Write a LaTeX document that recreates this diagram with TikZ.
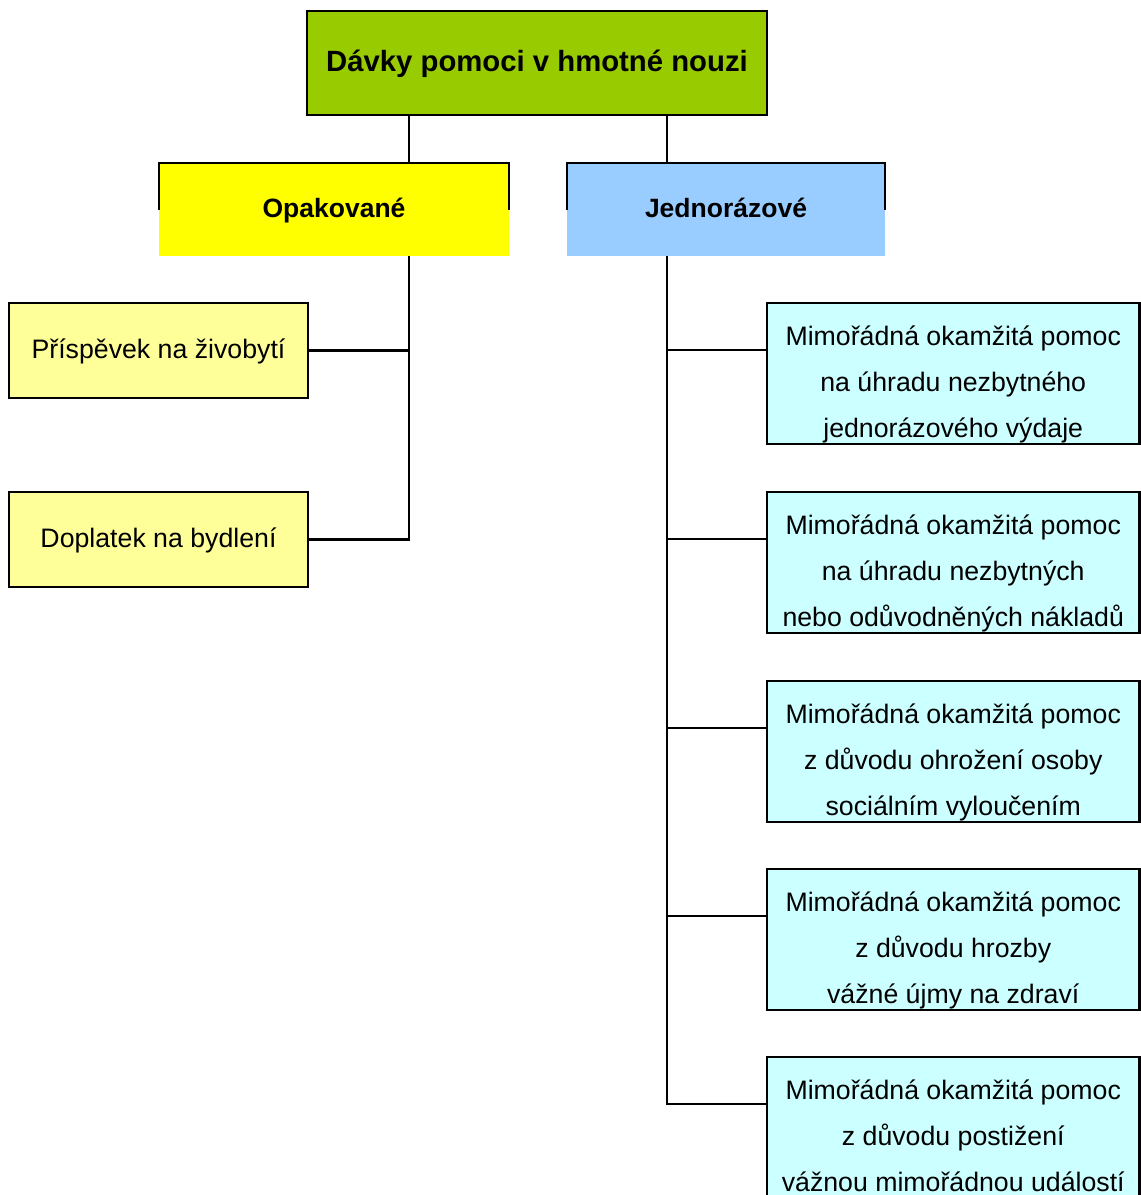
\documentclass[tikz,border=0pt]{standalone}
\usepackage{fontspec}
\setmainfont{Liberation Sans}
\definecolor{rootgreen}{HTML}{99CC00}
\definecolor{opyellow}{HTML}{FFFF00}
\definecolor{jedblue}{HTML}{99CCFF}
\definecolor{leafyellow}{HTML}{FFFF99}
\definecolor{leafcyan}{HTML}{CCFFFF}
\begin{document}
\begin{tikzpicture}[x=1pt,y=-1pt,
  line/.style={line width=2.8pt, black},
  boxnw/.style={line width=2.8pt, inner sep=0pt, outer sep=0pt, anchor=north west},
  rootbox/.style={boxnw, draw=black, fill=rootgreen, minimum width=460pt, minimum height=104pt,
     font=\fontsize{29.3}{35}\selectfont\bfseries, text height=22pt, text depth=6pt},
  catbox/.style={boxnw, minimum height=93pt, font=\fontsize{26.5}{32}\selectfont\bfseries,
     text height=20pt, text depth=5pt},
  leftbox/.style={boxnw, draw=black, fill=leafyellow, minimum width=299pt, minimum height=95pt,
     font=\fontsize{26.7}{32}\selectfont, text height=20pt, text depth=4pt},
  rightbox/.style={boxnw, draw=black, fill=leafcyan, minimum width=372.5pt, minimum height=141pt},
  rtext/.style={align=center, inner sep=0pt, font=\fontsize{26.7}{46}\selectfont}
]
\useasboundingbox (0,0) rectangle (1141,1195);
\clip (0,0) rectangle (1141,1195);

% root
\node[rootbox] (root) at (307,11) {Dávky pomoci v hmotné nouzi};

% categories
\node[catbox, fill=opyellow, minimum width=350pt] (opak) at (159,163) {Opakované};
\node[catbox, fill=jedblue, minimum width=318pt] (jedn) at (567,163) {Jednorázové};
\draw[line] ([yshift=-47pt]opak.north west) -- (opak.north west) -- (opak.north east) -- ([yshift=-47pt]opak.north east);
\draw[line] ([yshift=-47pt]jedn.north west) -- (jedn.north west) -- (jedn.north east) -- ([yshift=-47pt]jedn.north east);

% left leaves
\node[leftbox] (p1) at (9,303) {Příspěvek na živobytí};
\node[leftbox] (p2) at (9,492) {Doplatek na bydlení};

% right leaves
\node[rightbox] (r1) at (767,303) {};
\node[rightbox] (r2) at (767,492) {};
\node[rightbox] (r3) at (767,681) {};
\node[rightbox] (r4) at (767,869) {};
\node[rightbox, minimum height=160pt] (r5) at (767,1057) {};

\node[rtext] (t1) at ([yshift=-81pt]r1.north) {Mimořádná okamžitá pomoc\\na úhradu nezbytného\\jednorázového výdaje\vphantom{gy}};
\node[rtext] (t2) at ([yshift=-81pt]r2.north) {Mimořádná okamžitá pomoc\\na úhradu nezbytných\\nebo odůvodněných nákladů\vphantom{gy}};
\node[rtext] (t3) at ([yshift=-81pt]r3.north) {Mimořádná okamžitá pomoc\\z důvodu ohrožení osoby\\sociálním vyloučením\vphantom{gy}};
\node[rtext] (t4) at ([yshift=-81pt]r4.north) {Mimořádná okamžitá pomoc\\z důvodu hrozby\\vážné újmy na zdraví\vphantom{gy}};
\node[rtext] (t5) at ([yshift=-81pt]r5.north) {Mimořádná okamžitá pomoc\\z důvodu postižení\\vážnou mimořádnou událostí\vphantom{gy}};

% connector columns
\coordinate (lx) at (409,0);
\coordinate (rx) at (667,0);

\draw[line] (lx |- root.south) -- (lx |- opak.north);
\draw[line] (rx |- root.south) -- (rx |- jedn.north);

% left tree
\draw[line] (lx |- opak.south) -- (lx |- p2.east) -- (p2.east);
\draw[line] (p1.east) -- (lx |- p1.east);

% right tree
\coordinate (h1) at ([yshift=-47pt]r1.north west);
\coordinate (h2) at ([yshift=-47pt]r2.north west);
\coordinate (h3) at ([yshift=-47pt]r3.north west);
\coordinate (h4) at ([yshift=-47pt]r4.north west);
\coordinate (h5) at ([yshift=-47pt]r5.north west);
\draw[line] (rx |- jedn.south) -- (rx |- h5) -- (h5);
\draw[line] (rx |- h1) -- (h1);
\draw[line] (rx |- h2) -- (h2);
\draw[line] (rx |- h3) -- (h3);
\draw[line] (rx |- h4) -- (h4);
\end{tikzpicture}
\end{document}
